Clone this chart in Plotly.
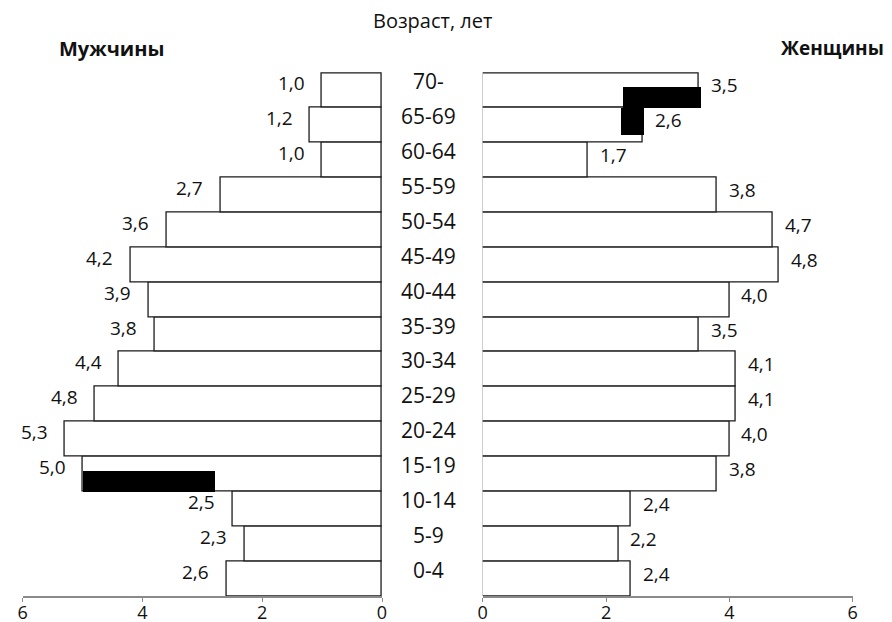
import plotly.graph_objects as go

ages = ["0-4", "5-9", "10-14", "15-19", "20-24", "25-29", "30-34", "35-39",
        "40-44", "45-49", "50-54", "55-59", "60-64", "65-69", "70-"]
men = [2.6, 2.3, 2.5, 5.0, 5.3, 4.8, 4.4, 3.8, 3.9, 4.2, 3.6, 2.7, 1.0, 1.2, 1.0]
women = [2.4, 2.2, 2.4, 3.8, 4.0, 4.1, 4.1, 3.5, 4.0, 4.8, 4.7, 3.8, 1.7, 2.6, 3.5]
x_ticks = [0, 2, 4, 6]

# dark filled patches seen on the printed chart
men_dark_age = ["15-19"]
men_dark_from = [2.8]
men_dark_to = [5.0]
women_dark_age = ["70-", "65-69"]
women_dark_from = [2.27, 2.23]
women_dark_to = [3.53, 2.61]

W, H = 892, 622
OFF = 8  # page body margin
FONT = "Open Sans"
fmt = lambda v: f"{v:.1f}".replace(".", ",")
idx = {a: i for i, a in enumerate(ages)}
ypos = list(range(len(ages)))


def px(p):
    return (p - OFF) / W


def py(p):
    return 1 - (p - OFF) / H


fig = go.Figure()
outline = dict(color="#1a1a1a", width=1.3)
fig.add_trace(go.Bar(y=ypos, x=men, orientation="h", xaxis="x", yaxis="y",
                     marker=dict(color="white", line=outline), width=1.0))
fig.add_trace(go.Bar(y=ypos, x=women, orientation="h", xaxis="x2", yaxis="y2",
                     marker=dict(color="white", line=outline), width=1.0))
fig.add_trace(go.Bar(
    y=[idx[a] for a in men_dark_age],
    x=[t - f for f, t in zip(men_dark_from, men_dark_to)], base=men_dark_from,
    orientation="h", xaxis="x", yaxis="y", marker=dict(color="black", line=dict(width=0)),
    width=[0.6], offset=[-0.5]))
fig.add_trace(go.Bar(
    y=[idx[a] for a in women_dark_age],
    x=[t - f for f, t in zip(women_dark_from, women_dark_to)], base=women_dark_from,
    orientation="h", xaxis="x2", yaxis="y2", marker=dict(color="black", line=dict(width=0)),
    width=[0.6, 0.75], offset=[-0.5, -0.25]))

n = len(ages)
row_px = (596 - 73) / n
extra = 1.5 / row_px
ydom = [py(596), py(73 - 1.5)]
yr = [-0.5, n - 0.5 + extra]
axcommon = dict(showgrid=False, zeroline=False, showline=True, linecolor="#8a8a8a", linewidth=1.5,
                ticks="outside", ticklen=4, tickcolor="#8a8a8a", tickvals=x_ticks, automargin=False,
                ticklabelstandoff=-4,
                tickfont=dict(family=FONT, size=18, color="#111"), fixedrange=True)
fig.update_layout(
    width=W, height=H, margin=dict(l=0, r=0, t=0, b=0, autoexpand=False),
    paper_bgcolor="white", plot_bgcolor="white", showlegend=False,
    barmode="overlay", bargap=0,
    xaxis=dict(domain=[px(22.7), px(382)], range=[6, 0], anchor="y", **axcommon),
    xaxis2=dict(domain=[px(482.7), px(852.7)], range=[0, 6], anchor="y2", **axcommon),
    yaxis=dict(domain=ydom, range=yr, visible=False, anchor="x"),
    yaxis2=dict(domain=ydom, range=yr, visible=False, anchor="x2"),
)

c = "#111"
head = dict(xref="paper", yref="paper", xanchor="center", yanchor="middle", showarrow=False)
anns = [dict(text="Возраст, лет", x=px(432), y=py(20), font=dict(family=FONT, size=20, color=c), **head),
        dict(text="<b>Мужчины</b>", x=px(111), y=py(48), font=dict(family=FONT, size=20, color=c), **head),
        dict(text="<b>Женщины</b>", x=px(832), y=py(48), font=dict(family=FONT, size=19, color=c), **head)]
for i, a in enumerate(ages):
    anns.append(dict(text=a, x=px(428), y=i, xref="paper", yref="y", yshift=9,
                     xanchor="center", yanchor="middle",
                     showarrow=False, font=dict(family=FONT, size=21, color=c)))
for i, v in enumerate(men):
    anns.append(dict(text=fmt(v), x=v, y=i, xref="x", yref="y", xanchor="right", yanchor="middle",
                     xshift=-15, yshift=7, showarrow=False, font=dict(family=FONT, size=19, color=c)))
for i, v in enumerate(women):
    anns.append(dict(text=fmt(v), x=v, y=i, xref="x2", yref="y2", xanchor="left", yanchor="middle",
                     xshift=10, yshift=5, showarrow=False, font=dict(family=FONT, size=19, color=c)))
fig.update_layout(annotations=anns)

fig.write_html("out.html")
